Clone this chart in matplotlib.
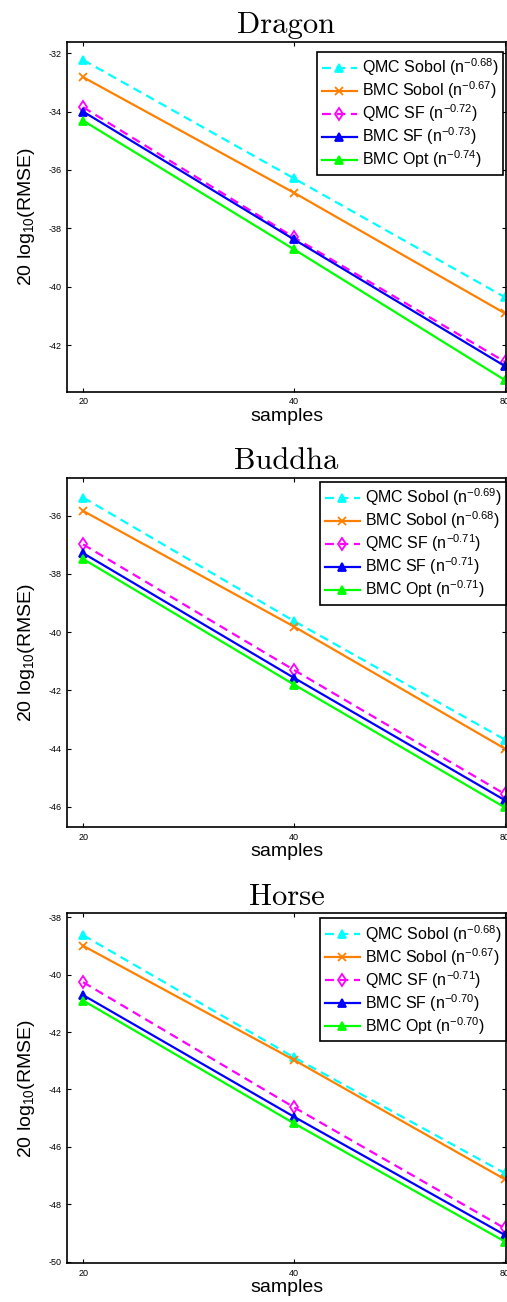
import matplotlib
matplotlib.use('Agg')
import matplotlib.pyplot as plt
from matplotlib.ticker import FixedLocator, NullLocator, FixedFormatter

plt.rcParams['font.family'] = ['Liberation Sans', 'DejaVu Sans']
plt.rcParams['mathtext.fontset'] = 'custom'
plt.rcParams['mathtext.rm'] = 'Liberation Sans'
plt.rcParams['mathtext.it'] = 'Liberation Sans:italic'
plt.rcParams['axes.unicode_minus'] = False

# data
samples = [20, 40, 80]
methods = ['QMC Sobol', 'BMC Sobol', 'QMC SF', 'BMC SF', 'BMC Opt']
scenes = ['Dragon', 'Buddha', 'Horse']

dragon = [
    [-32.23, -36.29, -40.36],
    [-32.82, -36.78, -40.91],
    [-33.85, -38.31, -42.57],
    [-34.00, -38.38, -42.72],
    [-34.31, -38.72, -43.20],
]
dragon_rates = ['-0.68', '-0.67', '-0.72', '-0.73', '-0.74']

buddha = [
    [-35.38, -39.62, -43.69],
    [-35.84, -39.81, -44.00],
    [-36.99, -41.30, -45.56],
    [-37.29, -41.57, -45.77],
    [-37.49, -41.80, -46.02],
]
buddha_rates = ['-0.69', '-0.68', '-0.71', '-0.71', '-0.71']

horse = [
    [-38.62, -42.88, -46.92],
    [-38.99, -42.97, -47.13],
    [-40.26, -44.62, -48.84],
    [-40.71, -44.95, -49.07],
    [-40.90, -45.18, -49.30],
]
horse_rates = ['-0.68', '-0.67', '-0.71', '-0.70', '-0.70']

dragon_yticks = [-42, -40, -38, -36, -34, -32]
buddha_yticks = [-46, -44, -42, -40, -38, -36]
horse_yticks = [-50, -48, -46, -44, -42, -40, -38]

# styles
colors = ['#00ffff', '#ff8000', '#ff00ff', '#0000ff', '#00ff00']
markers = ['^', 'x', 'd', '^', '^']
lstyles = ['--', '-', '--', '-', '-']
mfaces = ['#00ffff', '#ff8000', 'none', '#0000ff', '#00ff00']

fig = plt.figure(figsize=(5.07, 13.02), dpi=100)

rows = [
    (dragon, dragon_rates, dragon_yticks, (-43.6, -31.6), (0.6991, 0.9681), (0.9932, 0.971)),
    (buddha, buddha_rates, buddha_yticks, (-46.7, -34.7), (0.3646, 0.6331), (1.0, 0.9886)),
    (horse, horse_rates, horse_yticks, (-50.06, -37.86), (0.0297, 0.2985), (1.0, 0.986)),
]

left = 67 / 507
width = (506 - 67) / 507

for name, (vals, rates, yt, ylim, (b, t), anchor) in zip(scenes, rows):
    ax = fig.add_axes([left, b, width, t - b])
    for i, m in enumerate(methods):
        label = m + ' (n$^{' + rates[i] + '}$)'
        ax.plot(samples, vals[i], color=colors[i], marker=markers[i],
                linestyle=lstyles[i], linewidth=1.6, markersize=6,
                markerfacecolor=mfaces[i], markeredgewidth=1.3,
                dashes=(4, 2.5) if lstyles[i] == '--' else (None, None),
                label=label, clip_on=False)
    ax.set_xscale('log')
    ax.set_xlim(18.97, 80.3)
    ax.set_ylim(*ylim)
    ax.xaxis.set_major_locator(FixedLocator(samples))
    ax.xaxis.set_major_formatter(FixedFormatter([str(s) for s in samples]))
    ax.xaxis.set_minor_locator(NullLocator())
    ax.set_yticks(yt)
    ax.set_yticklabels([str(v) for v in yt])
    ax.tick_params(direction='in', top=True, right=True, length=3,
                   width=0.8, labelsize=6.5, pad=4)
    for sp in ax.spines.values():
        sp.set_linewidth(1.2)
    ax.set_title(name, fontfamily='cmr10', fontsize=22, pad=6)
    ax.set_xlabel('samples', fontsize=14, labelpad=1)
    ax.set_ylabel('20 log$_{10}$(RMSE)', fontsize=14, labelpad=8)
    leg = ax.legend(loc='upper right', bbox_to_anchor=anchor, fontsize=11.5,
                    fancybox=False, edgecolor='black', framealpha=1,
                    handlelength=2.2, labelspacing=0.08, borderaxespad=0,
                    handletextpad=0.3, borderpad=0.3)
    leg.get_frame().set_linewidth(1.2)

fig.savefig('out.png', dpi=100)
